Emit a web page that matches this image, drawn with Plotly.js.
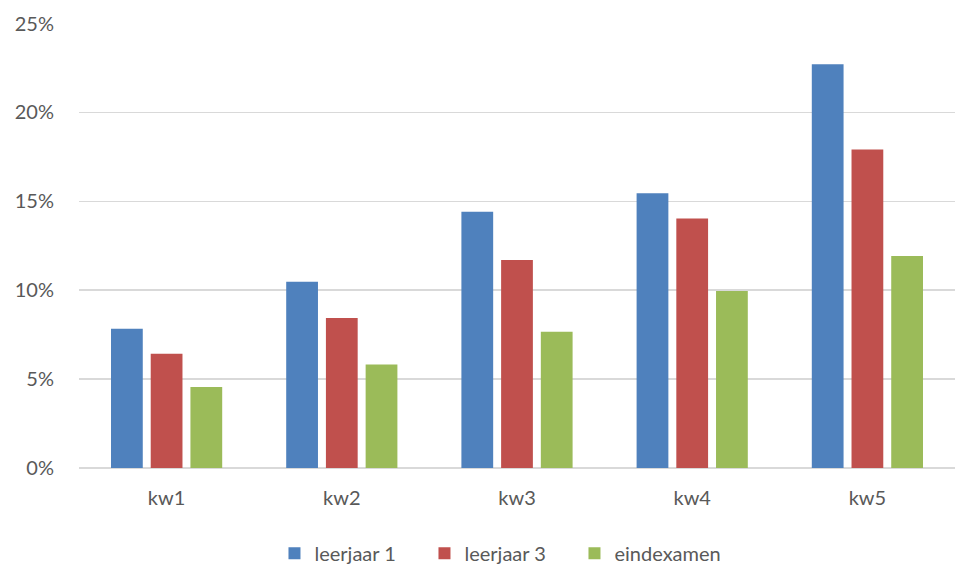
<!DOCTYPE html>
<html>
<head>
<meta charset="utf-8">
<script src="https://cdn.plot.ly/plotly-3.0.1.min.js"></script>
<style>html,body{margin:0;padding:0;background:#fff;}#chart{width:961px;height:567px;}</style>
</head>
<body>
<div id="chart"></div>
<script>
const categories = ["kw1", "kw2", "kw3", "kw4", "kw5"];
const leerjaar1 = [7.83, 10.47, 14.42, 15.45, 22.71];
const leerjaar3 = [6.42, 8.44, 11.70, 14.04, 17.92];
const eindexamen = [4.55, 5.82, 7.66, 9.96, 11.93];
const yTicks = [0, 5, 10, 15, 20, 25];

const fontFam = "Lato, 'Open Sans', 'Liberation Sans', sans-serif";
function series(name, y, color) {
  return {type: "bar", name: name, x: categories, y: y,
    marker: {color: color, line: {width: 0}}, hoverinfo: "x+y"};
}
const data = [
  series("leerjaar 1", leerjaar1, "#4F81BD"),
  series("leerjaar 3", leerjaar3, "#C0504D"),
  series("eindexamen", eindexamen, "#9BBB59")
];
const layout = {
  width: 961, height: 567,
  margin: {l: 79, r: 6, t: 23, b: 99, autoexpand: false},
  paper_bgcolor: "#fff", plot_bgcolor: "#fff",
  barmode: "group", bargap: 0.32, bargroupgap: 0.2,
  font: {family: fontFam, size: 20, color: "#595959"},
  xaxis: {type: "category", showgrid: false, zeroline: false, showline: false,
    ticks: "", ticklabelstandoff: 16, tickfont: {size: 20, color: "#595959"}},
  yaxis: {range: [0, 25.03], tickvals: yTicks, ticktext: yTicks.map(v => v + "%"),
    showgrid: true, gridcolor: "#D9D9D9", gridwidth: 1.5, zeroline: true,
    zerolinecolor: "#D9D9D9", zerolinewidth: 1.5, showline: false, ticks: "",
    ticklabelstandoff: 24, tickfont: {size: 20, color: "#595959"}},
  showlegend: true,
  legend: {orientation: "h", x: 0.48, xanchor: "center", y: -0.148, yanchor: "top",
    font: {size: 20, color: "#595959"}, itemwidth: 30, entrywidth: 105,
    entrywidthmode: "pixels", traceorder: "normal"}
};
Plotly.newPlot("chart", data, layout, {displayModeBar: false, staticPlot: true});
</script>
</body>
</html>
